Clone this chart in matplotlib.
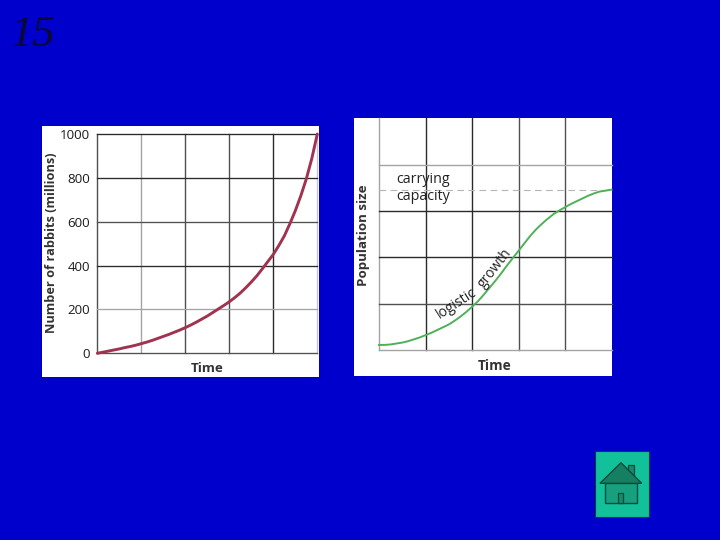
import numpy as np
import matplotlib
matplotlib.use("Agg")
import matplotlib.pyplot as plt
from matplotlib.patches import Rectangle, Polygon

W, H = 720, 540
BG = "#0000CC"
DARK, MID, PALE = "#2a2a2a", "#505050", "#a4a4a4"

# shared time positions read along the horizontal grid (5 cells, eighths of a cell)
time_steps = [0, .125, .25, .375, .5, .625, .75, .875, 1, 1.125, 1.25, 1.375, 1.5, 1.625, 1.75, 1.875,
              2, 2.125, 2.25, 2.375, 2.5, 2.625, 2.75, 2.875, 3, 3.125, 3.25, 3.375, 3.5, 3.625, 3.75, 3.875,
              4, 4.125, 4.25, 4.375, 4.5, 4.625, 4.75, 4.875, 5]

# left chart: exponential growth
rabbit_values = [0, 5, 10, 15, 20, 26, 31, 37, 44, 51, 59, 68, 77, 86, 96, 106,
                 117, 129, 142, 156, 170, 186, 202, 218, 235, 254, 275, 299, 325, 353, 385, 418,
                 451, 491, 535, 590, 650, 718, 795, 888, 1000]
rabbit_yticks = [0, 200, 400, 600, 800, 1000]

# right chart: logistic growth
logistic_values = [.11, .11, .12, .14, .16, .19, .23, .27, .32, .37, .43, .49, .55, .63, .72, .82,
                   .93, 1.05, 1.19, 1.34, 1.49, 1.65, 1.82, 1.98, 2.14, 2.30, 2.46, 2.60, 2.72, 2.83, 2.93, 3.01,
                   3.08, 3.15, 3.21, 3.27, 3.33, 3.38, 3.42, 3.44, 3.46]
carrying_capacity = 3.46


def px_axes(x0, x1, ytop, ybot):
    a = fig.add_axes([x0 / W, 1 - ybot / H, (x1 - x0) / W, (ybot - ytop) / H])
    a.patch.set_alpha(0)
    for s in a.spines.values():
        s.set_visible(False)
    a.tick_params(length=0)
    return a


def text_px(x, y, s, **kw):
    fig.text(x / W, 1 - y / H, s, **kw)


plt.rcParams["font.family"] = ["Open Sans", "DejaVu Sans"]
fig = plt.figure(figsize=(W / 100, H / 100), dpi=100, facecolor=BG)

# backdrop layer in pixel coordinates
bgax = fig.add_axes([0, 0, 1, 1], zorder=-1)
bgax.set_xlim(0, W)
bgax.set_ylim(H, 0)
bgax.axis("off")
bgax.add_patch(Rectangle((42, 126), 277, 251, fc="white", ec="none"))
bgax.add_patch(Rectangle((354, 118), 257.5, 258, fc="white", ec="none"))

# house button
bgax.add_patch(Rectangle((594.5, 450.5), 54, 66, fc="#12C09A", ec="#0B3A3A", lw=0.8))
bgax.add_patch(Rectangle((628.3, 465), 5.5, 12, fc="#178A6E", ec="#0C4A3C", lw=0.9))
bgax.add_patch(Rectangle((605, 483), 31.7, 20.3, fc="#17A07E", ec="#0C4A3C", lw=1.0))
bgax.add_patch(Polygon([[600, 483.3], [621, 462.7], [641.7, 483.3]], closed=True, fc="#157F62", ec="#0C4A3C", lw=1.0))
bgax.add_patch(Rectangle((618.3, 493), 5, 10.3, fc="#178A6E", ec="#0C4A3C", lw=0.9))

text_px(10, 46, "15", family="Liberation Serif", style="italic", fontsize=32, color="#0a0a30")

# left chart
ax1 = px_axes(97.3, 317.3, 134, 353.3)
ax1.set_xlim(0, 5)
ax1.set_ylim(0, 1000)
ax1.set_xticks([])
ax1.set_yticks(rabbit_yticks)
ax1.set_yticklabels(rabbit_yticks, fontsize=9.6, color="#1c1c1c")
ax1.tick_params(axis="y", pad=5)
for v, c in zip([1, 2, 3, 4, 5], [PALE, MID, MID, DARK, "#c4c4e0"]):
    ax1.axvline(v, color=c, lw=1.0, zorder=1, clip_on=False)
ax1.axvline(0, color=MID, lw=1.0, zorder=1, clip_on=False)
for v, c in zip(rabbit_yticks, [MID, PALE, DARK, MID, DARK, DARK]):
    ax1.axhline(v, color=c, lw=0.95, zorder=1, clip_on=False)
ax1.plot(time_steps, rabbit_values, color="#A0334F", lw=2.1, zorder=3, clip_on=False, solid_capstyle="round")
text_px(52, 243, "Number of rabbits (millions)", rotation=90, ha="center", va="center", fontsize=9.2, fontweight="bold", color="#333333")
text_px(207.5, 369, "Time", ha="center", va="center", fontsize=9.6, fontweight="bold", color="#333333")

# right chart
ax2 = px_axes(379, 611.5, 118.3, 350)
ax2.set_xlim(0, 5)
ax2.set_ylim(0, 5)
ax2.set_xticks([])
ax2.set_yticks([])
for v, c in zip([0, 1, 2, 3, 4], [PALE, DARK, DARK, MID, MID]):
    ax2.axvline(v, color=c, lw=1.0, zorder=1, clip_on=False)
for v, c in zip([0, 1, 2, 3, 4], [PALE, MID, DARK, DARK, PALE]):
    ax2.axhline(v, color=c, lw=1.0, zorder=1, clip_on=False)
ax2.axhline(carrying_capacity, color="#b5b5b5", lw=0.8, ls=(0, (6, 4)), zorder=1)
ax2.plot(time_steps, logistic_values, color="#4FB05A", lw=1.4, zorder=3, clip_on=False)

text_px(396, 180, "carrying", ha="left", va="center", fontsize=10.3, color="#222222")
text_px(396, 197, "capacity", ha="left", va="center", fontsize=10.3, color="#222222")
text_px(363.5, 235, "Population size", rotation=90, ha="center", va="center", fontsize=9.6, fontweight="bold", color="#333333")
text_px(495, 366, "Time", ha="center", va="center", fontsize=9.8, fontweight="bold", color="#333333")
text_px(457, 303, "logistic", rotation=33, ha="center", va="center", rotation_mode="anchor", fontsize=10, color="#222222")
text_px(495, 268, "growth", rotation=52, ha="center", va="center", rotation_mode="anchor", fontsize=10, color="#222222")

fig.savefig("out.png", dpi=100, facecolor=BG)
